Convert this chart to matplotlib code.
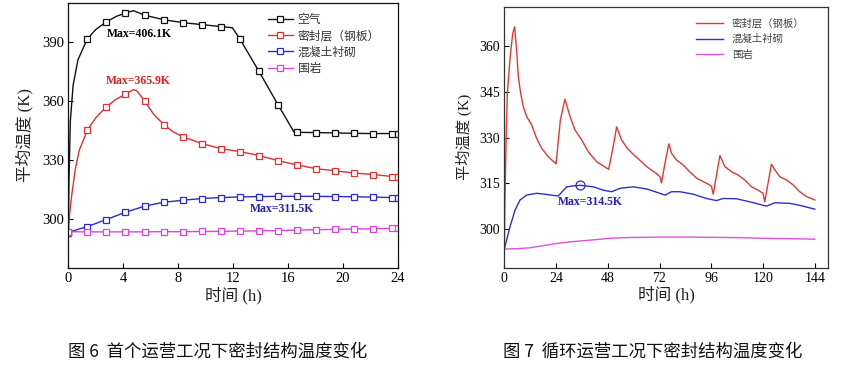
import matplotlib
matplotlib.use("Agg")
import matplotlib.pyplot as plt

SERIF = ['Liberation Serif', 'Noto Sans CJK SC']
CJK = ['Noto Sans CJK SC', 'DejaVu Sans']

# ---------------- Figure 6 data (24 h) ----------------
t_air = [0, 0.05, 0.15, 0.35, 0.7, 1.389, 2.0, 2.778, 3.5, 4.167, 4.75, 5.556, 6.944, 8.333,
         9.722, 11.111, 11.95, 12.5, 13.889, 15.278, 16.45, 16.667, 18.056, 19.444, 20.833,
         22.222, 23.611, 24]
v_air = [293, 320, 350, 368, 381, 391.7, 396.5, 400.4, 403.2, 404.9, 406.1, 403.8, 401.5, 400.0,
         399.0, 398.0, 397.4, 391.7, 375.2, 358.2, 344.2, 344.1, 344.0, 343.8, 343.6,
         343.5, 343.5, 343.4]

t_steel = [0, 0.1, 0.25, 0.5, 0.8, 1.389, 2.0, 2.778, 3.5, 4.167, 4.75, 5.0, 5.556, 6.2, 6.944,
           7.6, 8.333, 9.722, 11.111, 12.5, 13.889, 15.278, 16.667, 18.056, 19.444, 20.833,
           22.222, 23.611, 24]
v_steel = [293, 303, 312, 325, 335, 345.2, 351.5, 357.2, 361, 363.5, 365.9, 365.2, 360.1, 353.5,
           348.1, 344.5, 341.9, 338.4, 335.8, 334.3, 332.3, 329.7, 327.5, 325.6, 324.5, 323.4,
           322.6, 321.6, 321.4]

t_mark = [0, 1.389, 2.778, 4.167, 5.556, 6.944, 8.333, 9.722, 11.111, 12.5, 13.889, 15.278,
          16.667, 18.056, 19.444, 20.833, 22.222, 23.611, 24]
v_conc = [293.2, 296.1, 299.7, 303.4, 306.5, 308.5, 309.5, 310.4, 310.9, 311.2, 311.4, 311.5,
          311.5, 311.5, 311.4, 311.3, 311.1, 310.9, 310.8]
v_rock = [293.5, 293.4, 293.4, 293.4, 293.4, 293.5, 293.5, 293.6, 293.7, 293.8, 293.9, 294.1,
          294.3, 294.5, 294.7, 294.9, 295.0, 295.2, 295.2]

labels6 = ['空气', '密封层（钢板）', '混凝土衬砌', '围岩']
ann6 = [(5.15, 394.2, 'Max=406.1K', 'black'),
        (5.1, 370.5, 'Max=365.9K', '#e02020'),
        (15.57, 305.1, 'Max=311.5K', '#2020c0')]

# ---------------- Figure 7 data (144 h) ----------------
t7_steel = [0, 0.3, 0.8, 1.4, 2.6, 3.9, 4.8, 5.7, 6.5, 7.6, 8.8, 10.4, 12.7, 15.0, 17.3, 20.4,
            24.0, 26.0, 28.1, 30.5, 32.8, 35.9, 38.9, 42.8, 48.4, 50.5, 52.1, 54.4, 57.0, 59.8,
            63.0, 66.0, 70.6, 72.2, 72.9, 74.5, 76.3, 77.6, 79.9, 83.0, 86.0, 89.2, 92.2, 95.3,
            96.1, 96.9, 98.5, 100.0, 102.3, 105.4, 108.5, 111.6, 114.7, 117.7, 120.0, 120.8,
            122.3, 123.9, 125.5, 127.8, 130.9, 134.0, 137.0, 140.2, 144.0]
v7_steel = [293.5, 310, 328, 344.4, 355.3, 364, 366.1, 358.6, 349.9, 344.4, 340.1, 336.8, 334.1,
            329.7, 326.5, 323.7, 321.4, 335.7, 342.5, 336.8, 332.4, 329.2, 325.4, 322.1, 319.6,
            327, 333.5, 329.2, 326.5, 324.5, 322.5, 320.5, 318.2, 317.2, 315.2, 321.5, 327.9,
            324.8, 322.6, 321.0, 318.8, 316.7, 315.6, 314.5, 314.0, 311.5, 318, 324.1, 320.5,
            318.8, 317.7, 316.1, 313.9, 312.8, 311.8, 309.0, 315, 321.3, 319.4, 317.2, 316.1,
            314.5, 312.3, 310.7, 309.6]

t7_conc = [0, 2.6, 5.0, 7.3, 10.4, 15.0, 19.7, 25.0, 28.9, 32.0, 35.1, 41.3, 45.9, 49.8, 53.6,
           59.8, 66.0, 70.0, 74.5, 77.6, 81.5, 87.6, 93.8, 98.4, 101.5, 107.7, 113.9, 121.6,
           125.5, 132.4, 138.0, 144.0]
v7_conc = [293.5, 300.8, 306.3, 309.6, 311.2, 311.8, 311.4, 310.9, 313.9, 314.2, 314.4, 313.9,
           312.8, 312.3, 313.4, 313.9, 313.2, 312.3, 311.2, 312.3, 312.3, 311.5, 310.1, 309.4,
           310.1, 310.0, 309.0, 307.6, 308.7, 308.5, 307.7, 306.6]

t7_rock = [0, 5.7, 11.9, 18, 24.3, 30, 36.6, 43, 49, 55, 61.3, 73.7, 86, 98.4, 110, 120, 132, 144]
v7_rock = [293.6, 293.7, 294.0, 294.7, 295.4, 295.9, 296.3, 296.7, 297.1, 297.3, 297.4, 297.5,
           297.5, 297.4, 297.3, 297.1, 297.0, 296.8]

labels7 = ['密封层（钢板）', '混凝土衬砌', '围岩']
max7 = (35.3, 314.4)
ann7 = (39.7, 309.0, 'Max=314.5K')

captions = ['图 6  首个运营工况下密封结构温度变化', '图 7  循环运营工况下密封结构温度变化']

# ---------------- Drawing ----------------
fig = plt.figure(figsize=(8.57, 3.66), dpi=100)
W, H = 857, 366

def axes_px(l, t, r, b):
    return fig.add_axes([l / W, 1 - b / H, (r - l) / W, (b - t) / H])

# ---- Left chart ----
ax1 = axes_px(68.3, 3, 397.7, 268)
ms = 4.6
ax1.plot(t_air, v_air, color='#111111', lw=1.0, marker='s', mfc='white', ms=ms, mew=0.9,
         markevery=[t_air.index(x) for x in t_mark if x in t_air], label=labels6[0])
ax1.plot(t_steel, v_steel, color='#e03030', lw=1.0, marker='s', mfc='white', ms=ms, mew=0.9,
         markevery=[t_steel.index(x) for x in t_mark if x in t_steel], label=labels6[1])
ax1.plot(t_mark, v_conc, color='#2a2ad0', lw=1.0, marker='s', mfc='white', ms=ms, mew=0.9,
         label=labels6[2])
ax1.plot(t_mark, v_rock, color='#e040e0', lw=1.0, marker='s', mfc='white', ms=ms, mew=0.9,
         label=labels6[3])
ax1.set_xlim(0, 24)
ax1.set_ylim(275, 410)
ax1.set_xticks([0, 4, 8, 12, 16, 20, 24])
ax1.set_yticks([300, 330, 360, 390])
ax1.tick_params(direction='in', length=3.5, width=0.8, labelsize=10.5, pad=3)
for lab in ax1.get_xticklabels() + ax1.get_yticklabels():
    lab.set_fontfamily('Liberation Serif')
for s in ax1.spines.values():
    s.set_linewidth(0.9)
    s.set_color('#111111')
ax1.set_xlabel('时间 (h)', fontsize=12, family=SERIF, labelpad=1, color='#222222')
ax1.set_ylabel('平均温度 (K)', fontsize=12, family=SERIF, labelpad=6, color='#222222')
for x, y, txt, c in ann6:
    ax1.text(x, y, txt, ha='center', va='center', fontsize=8.5, fontweight='bold',
             family='Liberation Serif', color=c)
leg1 = ax1.legend(loc='upper left', bbox_to_anchor=(268 / W, 1 - 13 / H),
                  bbox_transform=fig.transFigure, frameon=False, prop={'family': CJK, 'size': 8.5},
                  handlelength=2.1, handletextpad=0.4, labelspacing=0.28, borderpad=0,
                  borderaxespad=0)
for t in leg1.get_texts():
    t.set_color('#333333')

# ---- Right chart ----
ax2 = axes_px(504.3, 6.7, 827.7, 267.7)
ax2.plot(t7_steel, v7_steel, color='#e03838', lw=1.0, label=labels7[0])
ax2.plot(t7_conc, v7_conc, color='#2f2fcc', lw=1.0, label=labels7[1])
ax2.plot(t7_rock, v7_rock, color='#e050e0', lw=1.0, label=labels7[2])
ax2.plot([max7[0]], [max7[1]], marker='o', mfc='none', mec='#2f2fcc', ms=6.5, mew=0.9)
ax2.text(ann7[0], ann7[1], ann7[2], ha='center', va='center', fontsize=8.5, fontweight='bold',
         family='Liberation Serif', color='#2020c0')
ax2.set_xlim(0, 150)
ax2.set_ylim(287.5, 372.7)
ax2.set_xticks([0, 24, 48, 72, 96, 120, 144])
ax2.set_yticks([300, 315, 330, 345, 360])
ax2.tick_params(direction='in', length=3.5, width=0.8, labelsize=10, pad=3)
for lab in ax2.get_xticklabels() + ax2.get_yticklabels():
    lab.set_fontfamily('Liberation Serif')
for s in ax2.spines.values():
    s.set_linewidth(0.9)
    s.set_color('#333333')
ax2.set_xlabel('时间 (h)', fontsize=12, family=SERIF, labelpad=1, color='#222222')
ax2.set_ylabel('平均温度 (K)', fontsize=11, family=SERIF, labelpad=5, color='#222222')
leg2 = ax2.legend(loc='upper left', bbox_to_anchor=(696 / W, 1 - 18 / H),
                  bbox_transform=fig.transFigure, frameon=False, prop={'family': CJK, 'size': 7.5},
                  handlelength=2.6, handletextpad=0.85, labelspacing=0.55, borderpad=0,
                  borderaxespad=0)
for t in leg2.get_texts():
    t.set_color('#444444')

# ---- Captions ----
fig.text(217.5 / W, 1 - 352 / H, captions[0], ha='center', va='center', fontsize=12.5,
         family=CJK, color='#111111')
fig.text(653 / W, 1 - 352 / H, captions[1], ha='center', va='center', fontsize=12.5,
         family=CJK, color='#111111')

fig.savefig('out.png', dpi=100)
